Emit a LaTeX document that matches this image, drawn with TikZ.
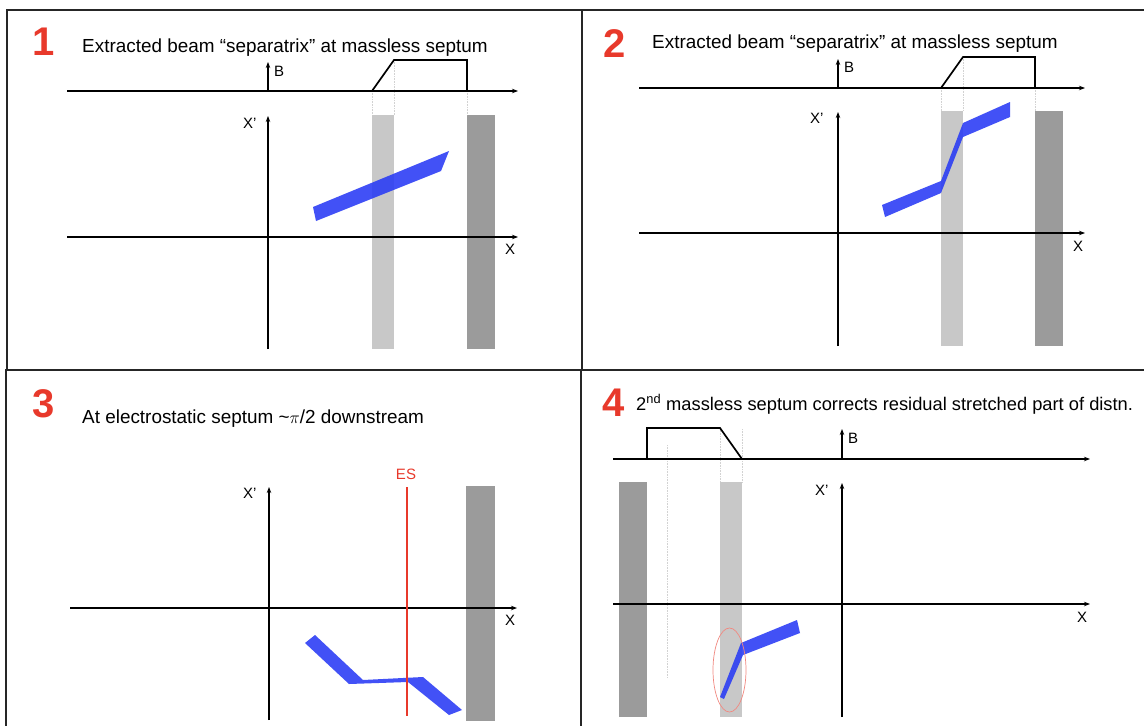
\documentclass[tikz,border=0pt]{standalone}
\usepackage{fontspec}
\setmainfont{Liberation Sans}
\usetikzlibrary{arrows.meta}
\definecolor{beamblue}{RGB}{40,58,245}
\definecolor{septlight}{RGB}{200,200,200}
\definecolor{septdark}{RGB}{155,155,155}
\definecolor{panelred}{RGB}{232,57,43}
\definecolor{guidegray}{RGB}{210,210,210}

\begin{document}
\begin{tikzpicture}[x=1pt, y=-1pt,
    every node/.style={inner sep=0pt},
    frame/.style={line width=1.4pt, black!85},
    axis/.style={line width=1.8pt, -{Stealth[length=6pt, width=4.5pt]}},
    field/.style={line width=1.7pt},
    guide/.style={densely dotted, guidegray, line width=0.6pt},
    lightsep/.style={fill=septlight},
    darksep/.style={fill=septdark},
    beam/.style={fill=beamblue, fill opacity=0.88},
    num/.style={anchor=base west, text=panelred, font=\fontsize{40}{40}\selectfont\bfseries},
    heading/.style={anchor=base west, font=\fontsize{18.9}{22}\selectfont},
    lbl/.style={anchor=base west, font=\fontsize{15}{16}\selectfont}
]

\useasboundingbox (0,0) rectangle (1144,726);
\fill[white] (0,0) rectangle (1144,726);

% panel frames
\draw[frame] (1144,10) -- (7,10) -- (7,370);
\draw[frame] (582,10) -- (582,370);
\draw[frame] (1144,370) -- (6,370) -- (6,726);
\draw[frame] (581,370) -- (581,726);

% ---- panel 1
\node[num] (n1) at (32,55) {1};
\node[heading] (t1) at (82,52) {Extracted beam “separatrix” at massless septum};
\fill[lightsep] (372,115) rectangle (394,349);
\fill[darksep] (467,115) rectangle (495,349);
\foreach \x/\y in {372/91, 394/60, 467/91}
    \draw[guide] (\x,\y) -- (\x,115);
\draw[axis] (67,91) -- (518,91);
\draw[axis] (268,91) -- (268,62);
\draw[field] (372,91) -- (394,60) -- (467,60) -- (467,91);
\node[lbl] (b1) at (274,76) {B};
\draw[axis] (67,237) -- (518,237);
\draw[axis] (268,349) -- (268,116);
\node[lbl] (xp1) at (243,128) {X’};
\node[lbl] (x1) at (505,254) {X};
\fill[beam] (313,207) -- (449,151) -- (441,171) -- (316,221) -- cycle;

% ---- panel 2
\node[num] (n2) at (603,57) {2};
\node[heading] (t2) at (652,48) {Extracted beam “separatrix” at massless septum};
\fill[lightsep] (941,111) rectangle (963,346);
\fill[darksep] (1035,111) rectangle (1063,346);
\foreach \x/\y in {941/88, 963/57, 1035/88}
    \draw[guide] (\x,\y) -- (\x,111);
\draw[axis] (639,88) -- (1085,88);
\draw[axis] (838,88) -- (838,59);
\draw[field] (941,88) -- (963,57) -- (1035,57) -- (1035,88);
\node[lbl] (b2) at (844,72) {B};
\draw[axis] (639,233) -- (1085,233);
\draw[axis] (838,346) -- (838,112);
\node[lbl] (xp2) at (810,123) {X’};
\node[lbl] (x2) at (1073,251) {X};
\fill[beam] (882,205) -- (941,181) -- (963,123) -- (1010,102) -- (1010,117)
    -- (963,137) -- (941,193) -- (885,217) -- cycle;

% ---- panel 3
\node[num] (n3) at (32,417) {3};
\node[heading] (t3) at (82,423) {At electrostatic septum \char`~$\pi$/2 downstream};
\fill[darksep] (466,486) rectangle (495,721);
\draw[axis] (70,608) -- (517,608);
\draw[axis] (269,720) -- (269,487);
\node[lbl] (xp3) at (243,498) {X’};
\node[lbl] (x3) at (505,625) {X};
\fill[beam] (305,643) -- (315,635) -- (363,680) -- (423,677) -- (462,710)
    -- (449,715) -- (408,682) -- (349,684) -- cycle;
\draw[panelred, line width=1.5pt] (407,487) -- (407,716);
\node[lbl, anchor=base, text=panelred] (es) at (406,479) {ES};

% ---- panel 4
\node[num] (n4) at (602,416) {4};
\node[heading, font=\fontsize{18.3}{22}\selectfont] (t4) at (636,410)
    {2\textsuperscript{nd} massless septum corrects residual stretched part of distn.};
\fill[darksep] (619,482) rectangle (647,717);
\fill[lightsep] (720,482) rectangle (742,717);
\draw[guide] (667,445) -- (667,678);
\draw[guide] (720,428) -- (720,482);
\draw[guide] (742,429) -- (742,482);
\draw[axis] (613,459) -- (1090,459);
\draw[axis] (842,459) -- (842,429);
\draw[field] (647,459) -- (647,428) -- (720,428) -- (742,459);
\node[lbl] (b4) at (848,443) {B};
\draw[axis] (613,604) -- (1090,604);
\draw[axis] (842,717) -- (842,483);
\node[lbl] (xp4) at (815,495) {X’};
\node[lbl] (x4) at (1077,622) {X};
\fill[beam] (720,697) -- (741,643) -- (797,620) -- (800,633) -- (743,655)
    -- (724,699) -- cycle;
\draw[panelred!60, line width=0.7pt] (729.5,670) ellipse [x radius=16.5, y radius=42];

\end{tikzpicture}
\end{document}
